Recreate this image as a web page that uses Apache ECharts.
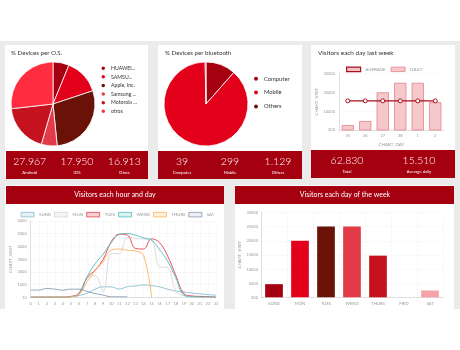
<!DOCTYPE html>
<html>
<head>
<meta charset="utf-8">
<script src="https://cdn.jsdelivr.net/npm/echarts/dist/echarts.min.js"></script>
<style>
	html, body { margin: 0; padding: 0; background: #fff; }
	#page { position: relative; width: 460px; height: 350px; overflow: hidden; }
	.bg { position: absolute; left: 0; top: 41px; width: 460px; height: 268px; background: #ebebeb; }
	.card { position: absolute; background: #fff; }
	.band { position: absolute; background: #a4000f; }
	#chart { position: absolute; left: 0; top: 0; width: 460px; height: 350px; }
</style>
</head>
<body>
<div id="page">
	<div class="bg"></div>
	<div class="card" style="left:5px;top:45px;width:143px;height:134px"></div>
	<div class="card" style="left:158px;top:45px;width:144px;height:134px"></div>
	<div class="card" style="left:311px;top:45px;width:144px;height:133px"></div>
	<div class="band" style="left:6px;top:151px;width:142px;height:28px"></div>
	<div class="band" style="left:158px;top:151px;width:144px;height:28px"></div>
	<div class="band" style="left:311px;top:150px;width:144px;height:28px"></div>
	<div class="card" style="left:5px;top:185px;width:219px;height:124px"></div>
	<div class="card" style="left:235px;top:185px;width:219px;height:124px"></div>
	<div class="band" style="left:6px;top:186px;width:218px;height:18px"></div>
	<div class="band" style="left:235px;top:186px;width:219px;height:18px"></div>
	<div id="chart"></div>
</div>
<script>
	// 数据
	var osNames = ['HUAWEI...', 'SAMSU...', 'Apple, Inc.', 'Samsung ...', 'Motorola ...', 'otros'];
	var osShare = [6.2, 13.7, 28.5, 6.1, 18.7, 26.8];
	var osColors = ['#a4000f', '#e2001a', '#6a1208', '#e23a48', '#c4121f', '#ff2d3f'];
	var osTotals = ['27.967', '17.950', '16.913'];
	var osTotalLabels = ['Android', 'IOS', 'Otros'];

	var btNames = ['Computer', 'Mobile', 'Others'];
	var btCount = [39, 299, 1.129];
	var btColors = ['#a4000f', '#e2001a', '#6a1208'];
	var btTotals = ['39', '299', '1.129'];
	var btTotalLabels = ['Computer', 'Mobile', 'Others'];

	var lastWeekDays = ['25', '26', '27', '28', '1', '2'];
	var lastWeekDaily = [2800, 4900, 20000, 25000, 25000, 14800];
	var lastWeekAverage = [15510, 15510, 15510, 15510, 15510, 15510];
	var weekTotals = ['62.830', '15.510'];
	var weekTotalLabels = ['Total', 'Average daily'];

	var hours = ['0', '1', '2', '3', '4', '5', '6', '7', '8', '9', '10', '11',
		'12', '13', '14', '15', '16', '17', '18', '19', '20', '21', '22', '23'];
	var sund = [50, 50, 50, 50, 50, 50, 150, 330, 650, 830, 830, 650, 850, 900, 980, 930, 830, 650, 500, 420, 340, 280, 220, 180];
	var mon = [10, 10, 10, 10, 10, 50, 400, 1500, 1700, 440, 3450, 3450, 4700, 4630, 4580, 4500, 2400, 2350, 500, 150, 10, 10, 10, 10];
	var tues = [10, 10, 10, 10, 10, 80, 310, 1560, 2140, 3000, 4370, 4960, 4900, 3840, 3800, 4600, 4300, 3250, 1750, 300, 120, 80, 60, 30];
	var wend = [10, 10, 10, 10, 10, 50, 250, 1620, 2650, 3400, 4300, 4950, 5020, 4890, 4680, 4500, 3750, 2850, 1550, 180, 60, 30, 20, 10];
	var thurs = [10, 10, 10, 10, 10, 50, 230, 1230, 2100, 2800, 3720, 3800, 3700, 3640, 3320, 10, null, null, null, null, null, null, null, null];
	var sat = [576, 576, 700, 650, 570, 650, 650, 470, 310, 180, 50, 50, 50, null, null, null, null, null, null, null, null, null, null, null];

	var days = ['SUND', 'MON', 'TUES', 'WEND', 'THURS', 'FRID', 'SAT'];
	var dayVisits = [4800, 20000, 25000, 25000, 14800, 0, 2600];
	var dayColors = ['#a4000f', '#e2001a', '#6a1208', '#e23a48', '#c4121f', '#ff2d3f', '#f4a3aa'];

	var lineNames = ['SUND', 'MON', 'TUES', 'WEND', 'THURS', 'SAT'];
	var lineData = [sund, mon, tues, wend, thurs, sat];
	var lineColors = ['#88bcd4', '#d6d6d6', '#e8404c', '#4cc0c0', '#ffb060', '#8898b0'];
	var lineFills = ['#e6f1f6', '#f4f4f4', '#f8d0d4', '#ddf3f3', '#ffefd9', '#eceff3'];

	var FONT = 'Lato, "Noto Sans", sans-serif';

	function txt(x, y, s, size, color, align, weight) {
		return {
			type: 'text', x: x, y: y, z: 10,
			style: {
				text: s, fill: color, fontSize: size, fontFamily: FONT, fontWeight: weight || 'normal',
				align: align, verticalAlign: 'middle', textAlign: align, textVerticalAlign: 'middle'
			}
		};
	}

	var texts = [
		txt(11, 53, '% Devices per O.S.', 6.2, '#333', 'left'),
		txt(165, 53, '% Devices per bluetooth', 6.2, '#333', 'left'),
		txt(318, 53, 'Visitors each day last week', 6.4, '#333', 'left'),
		txt(115, 195, 'Visitors each hour and day', 7, '#fff', 'center'),
		txt(345, 195, 'Visitors each day of the week', 7, '#fff', 'center')
	];
	var osX = [29.7, 77, 124.3], btX = [182, 230, 278], wkX = [347, 419];
	osTotals.forEach(function (v, i) {
		texts.push(txt(osX[i], 162, v, 10.5, '#fff', 'center', 300));
		texts.push(txt(osX[i], 173, osTotalLabels[i], 4.2, '#fff', 'center'));
	});
	btTotals.forEach(function (v, i) {
		texts.push(txt(btX[i], 162, v, 10.5, '#fff', 'center', 300));
		texts.push(txt(btX[i], 173, btTotalLabels[i], 4.2, '#fff', 'center'));
	});
	weekTotals.forEach(function (v, i) {
		texts.push(txt(wkX[i], 161, v, 10.5, '#fff', 'center', 300));
		texts.push(txt(wkX[i], 172, weekTotalLabels[i], 4.2, '#fff', 'center'));
	});

	function plain(v) { return String(v); }
	var axisLabel = { fontSize: 4, color: '#999', fontFamily: FONT };
	var axisLine = { show: true, lineStyle: { color: '#d8d8d8', width: 0.8 } };
	var nameStyle = { fontSize: 4.5, color: '#999', fontFamily: FONT };
	var splitLine = { show: true, lineStyle: { color: '#f0f0f0', width: 0.6, type: 'dashed' } };

	var series = [
		{
			type: 'pie', center: [53, 104], radius: 42, startAngle: 90,
			label: { show: false }, labelLine: { show: false }, silent: true,
			itemStyle: { borderColor: '#fff', borderWidth: 0.8 },
			data: osNames.map(function (n, i) { return { name: n, value: osShare[i], itemStyle: { color: osColors[i] } }; })
		},
		{
			type: 'pie', center: [206, 104], radius: 42, startAngle: 90,
			label: { show: false }, labelLine: { show: false }, silent: true,
			itemStyle: { borderColor: '#fff', borderWidth: 0.8 },
			data: btNames.map(function (n, i) { return { name: n, value: btCount[i], itemStyle: { color: btColors[i] } }; })
		},
		{
			name: 'DAILY', type: 'bar', xAxisIndex: 0, yAxisIndex: 0, barCategoryGap: '30%',
			itemStyle: { color: '#f5c8cc', borderColor: '#e8808a', borderWidth: 0.8 },
			data: lastWeekDaily
		},
		{
			name: 'AVERAGE', type: 'line', xAxisIndex: 0, yAxisIndex: 0, z: 5,
			symbol: 'circle', symbolSize: 4,
			lineStyle: { color: '#a8101c', width: 1.4 },
			itemStyle: { color: '#fff', borderColor: '#a8101c', borderWidth: 1 },
			data: lastWeekAverage
		},
		{
			type: 'bar', xAxisIndex: 2, yAxisIndex: 2, barCategoryGap: '32%', clip: true,
			data: dayVisits.map(function (v, i) { return { value: v, itemStyle: { color: dayColors[i] } }; })
		}
	];
	lineNames.forEach(function (n, i) {
		series.push({
			name: n, type: 'line', xAxisIndex: 1, yAxisIndex: 1, smooth: 0.4,
			symbol: 'none', lineStyle: { color: lineColors[i], width: 0.9 },
			itemStyle: { color: lineColors[i] },
			data: lineData[i]
		});
	});

	var chart = echarts.init(document.getElementById('chart'));
	var option = {
		animation: false,
		textStyle: { fontFamily: FONT },
		graphic: { elements: texts },
		legend: [
			{
				data: osNames, left: 99.5, top: 64.5, orient: 'vertical', icon: 'circle', padding: 0,
				itemWidth: 5.5, itemHeight: 5.5, itemGap: 1.1, selectedMode: false,
				textStyle: { fontSize: 5.2, color: '#333', fontFamily: FONT }
			},
			{
				data: btNames, left: 252, top: 74.7, orient: 'vertical', icon: 'circle', padding: 0,
				itemWidth: 6, itemHeight: 6, itemGap: 5.9, selectedMode: false,
				textStyle: { fontSize: 5.8, color: '#333', fontFamily: FONT }
			},
			{
				data: [
					{ name: 'AVERAGE', itemStyle: { color: '#f3c0c4', borderColor: '#a8101c', borderWidth: 1.2 } },
					{ name: 'DAILY', itemStyle: { color: '#f5c8cc', borderColor: '#e8808a', borderWidth: 0.8 } }
				],
				left: 346, top: 66.5, icon: 'rect', itemWidth: 14, itemHeight: 4.5, itemGap: 5, selectedMode: false, padding: 0,
				textStyle: { fontSize: 4.5, color: '#999', fontFamily: FONT }
			},
			{
				data: lineNames.map(function (n, i) {
					return { name: n, itemStyle: { color: lineFills[i], borderColor: lineColors[i], borderWidth: 0.8 } };
				}),
				left: 20.7, top: 212, icon: 'rect', itemWidth: 13, itemHeight: 4.5, itemGap: 3, selectedMode: false, padding: 0,
				textStyle: { fontSize: 4.3, color: '#999', fontFamily: FONT }
			}
		],
		grid: [
			{ left: 339, right: 16, top: 73.3, bottom: 220 },
			{ left: 30.7, right: 244, top: 221, bottom: 52.7 },
			{ left: 261, right: 17, top: 212.3, bottom: 52.7 }
		],
		xAxis: [
			{
				type: 'category', gridIndex: 0, data: lastWeekDays,
				name: 'CHART_DAY', nameLocation: 'middle', nameGap: 12, nameTextStyle: nameStyle,
				axisLine: axisLine, axisTick: { show: false }, axisLabel: Object.assign({ margin: 4 }, axisLabel)
			},
			{
				type: 'category', gridIndex: 1, data: hours, boundaryGap: false,
				axisLine: axisLine, axisTick: { show: false }, splitLine: splitLine,
				axisLabel: Object.assign({ margin: 4, interval: 0 }, axisLabel)
			},
			{
				type: 'category', gridIndex: 2, data: days,
				axisLine: axisLine, axisTick: { show: false }, splitLine: splitLine,
				axisLabel: Object.assign({ margin: 4, interval: 0 }, axisLabel, { fontSize: 4.2 })
			}
		],
		yAxis: [
			{
				type: 'value', gridIndex: 0, min: 200, max: 30000, splitNumber: 3,
				name: 'CHART_VISIT', nameLocation: 'middle', nameRotate: 90, nameGap: 17, nameTextStyle: nameStyle,
				axisLine: axisLine, splitLine: splitLine, axisLabel: Object.assign({ margin: 4, formatter: plain }, axisLabel)
			},
			{
				type: 'value', gridIndex: 1, min: 10, max: 6000, splitNumber: 6,
				name: 'CHART_VISIT', nameLocation: 'middle', nameRotate: 90, nameGap: 17, nameTextStyle: nameStyle,
				axisLine: axisLine, splitLine: splitLine, axisLabel: Object.assign({ margin: 4, formatter: plain }, axisLabel)
			},
			{
				type: 'value', gridIndex: 2, min: 200, max: 30000, splitNumber: 6,
				name: 'CHART_VISIT', nameLocation: 'middle', nameRotate: 90, nameGap: 18, nameTextStyle: nameStyle,
				axisLine: axisLine, splitLine: splitLine, axisLabel: Object.assign({ margin: 3, formatter: plain }, axisLabel)
			}
		],
		series: series
	};
	chart.setOption(option);
</script>
</body>
</html>
